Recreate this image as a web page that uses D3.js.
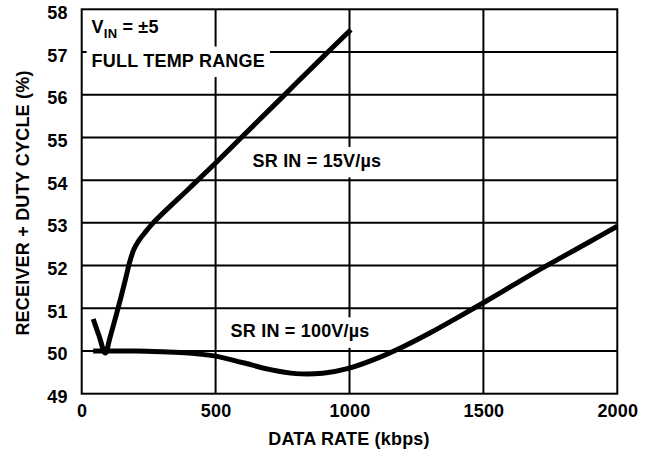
<!DOCTYPE html>
<html>
<head>
<meta charset="utf-8">
<script src="https://cdn.jsdelivr.net/npm/d3@7"></script>
<style>
  body { margin: 0; background: #fff; }
  text { font-family: "Liberation Sans", Arial, sans-serif; font-weight: bold; fill: #000; }
</style>
</head>
<body>
<script>
// readings
var xTicks = [0, 500, 1000, 1500, 2000];
var yTicks = [49, 50, 51, 52, 53, 54, 55, 56, 57, 58];

var sr15Rate = [43, 65, 88, 105, 125, 145, 165, 180, 195, 215, 240, 267, 400, 500, 600, 750, 900, 1005];
var sr15Duty = [50.75, 50.35, 49.95, 50.3, 50.75, 51.22, 51.72, 52.1, 52.38, 52.6, 52.8, 53.0, 53.8, 54.4, 55.02, 55.95, 56.88, 57.52];

var sr100Rate = [43, 100, 200, 300, 400, 500, 600, 700, 800, 900, 1000, 1100, 1200, 1300, 1400, 1500, 1600, 1700, 1800, 1900, 2000];
var sr100Duty = [50.0, 50.0, 50.0, 49.98, 49.95, 49.88, 49.73, 49.57, 49.47, 49.48, 49.6, 49.82, 50.1, 50.42, 50.77, 51.13, 51.5, 51.87, 52.22, 52.57, 52.92];

var margin = {top: 9.3, right: 36.7, bottom: 60.3, left: 81.7},
    width = 654 - margin.left - margin.right,
    height = 454 - margin.top - margin.bottom;

var svg = d3.select("body").append("svg")
    .attr("width", 654)
    .attr("height", 454);

var g = svg.append("g")
    .attr("transform", `translate(${margin.left},${margin.top})`);

var x = d3.scaleLinear().domain([0, 2000]).range([0, width]);
var y = d3.scaleLinear().domain([49, 58]).range([height, 0]);

var fontSize = 18, spacing = 0.2;

// grid
g.selectAll(".hgrid").data(yTicks.slice(1, -1)).enter().append("line")
    .attr("x1", 0).attr("x2", width)
    .attr("y1", function (d) { return y(d); })
    .attr("y2", function (d) { return y(d); })
    .attr("stroke", "#000").attr("stroke-width", 2);
g.selectAll(".vgrid").data(xTicks.slice(1, -1)).enter().append("line")
    .attr("y1", 0).attr("y2", height)
    .attr("x1", function (d) { return x(d); })
    .attr("x2", function (d) { return x(d); })
    .attr("stroke", "#000").attr("stroke-width", 2);

// label boxes punch holes in the grid
var boxLayer = g.append("g");

// curves
var line = d3.line()
    .x(function (d) { return x(d[0]); })
    .y(function (d) { return y(d[1]); })
    .curve(d3.curveCatmullRom.alpha(0.5));

var sr15 = sr15Rate.map(function (r, i) { return [r, sr15Duty[i]]; });
var sr100 = sr100Rate.map(function (r, i) { return [r, sr100Duty[i]]; });

[sr100, sr15].forEach(function (s) {
    g.append("path")
        .datum(s)
        .attr("d", line)
        .attr("fill", "none")
        .attr("stroke", "#000")
        .attr("stroke-width", 5);
});

// frame
g.append("rect")
    .attr("width", width).attr("height", height)
    .attr("fill", "none").attr("stroke", "#000").attr("stroke-width", 2);

// axes
var yAxis = g.append("g").call(d3.axisLeft(y).tickValues(yTicks).tickSize(0).tickPadding(14));
yAxis.select(".domain").remove();
yAxis.selectAll("text").attr("dy", "0.5em");

var xAxis = g.append("g")
    .attr("transform", `translate(0,${height})`)
    .call(d3.axisBottom(x).tickValues(xTicks).tickFormat(d3.format("d")).tickSize(0).tickPadding(11));
xAxis.select(".domain").remove();

[yAxis, xAxis].forEach(function (a) {
    a.attr("font-family", null).attr("font-size", null);
    a.selectAll("text").style("font-size", fontSize + "px").attr("letter-spacing", spacing);
});

svg.append("text")
    .attr("x", 349).attr("y", 445)
    .attr("text-anchor", "middle")
    .style("font-size", fontSize + "px").attr("letter-spacing", spacing)
    .text("DATA RATE (kbps)");

svg.append("text")
    .attr("transform", "translate(29,203) rotate(-90)")
    .attr("text-anchor", "middle")
    .style("font-size", fontSize + "px").attr("letter-spacing", spacing)
    .text("RECEIVER + DUTY CYCLE (%)");

// annotations
var notes = [
    {t: "FULL TEMP RANGE", r: 37, v: 56.66},
    {t: "SR IN = 15V/µs", r: 638, v: 54.31},
    {t: "SR IN = 100V/µs", r: 556, v: 50.32}
];
notes.forEach(function (n) {
    var t = g.append("text")
        .attr("x", x(n.r)).attr("y", y(n.v))
        .style("font-size", fontSize + "px").attr("letter-spacing", spacing)
        .text(n.t);
    var b = t.node().getBBox();
    boxLayer.append("rect")
        .attr("x", b.x - 5).attr("y", b.y - 4)
        .attr("width", b.width + 10).attr("height", b.height + 10.5)
        .attr("fill", "#fff");
});

var vin = g.append("text")
    .attr("x", x(37)).attr("y", y(57.44))
    .style("font-size", fontSize + "px").attr("letter-spacing", spacing);
vin.append("tspan").text("V");
vin.append("tspan").attr("dy", 5).style("font-size", "13px").text("IN");
vin.append("tspan").attr("dy", -5).text(" = ±5");
</script>
</body>
</html>
